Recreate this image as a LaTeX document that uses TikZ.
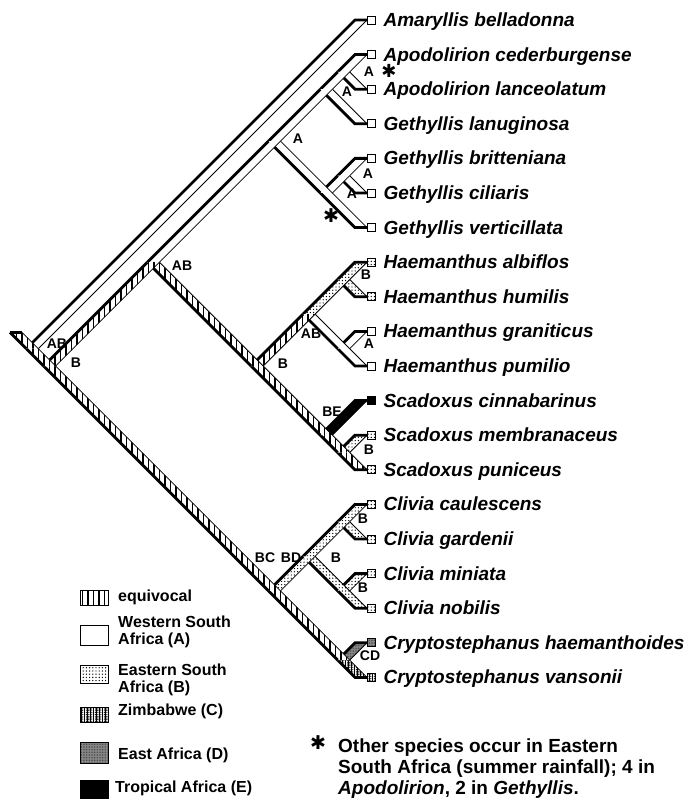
\documentclass[tikz,border=0pt]{standalone}
\usepackage{fontspec}
\setmainfont{Liberation Sans}
\newfontfamily\symfont{DejaVu Sans}
\usetikzlibrary{positioning, patterns.meta}

\begin{document}
\begin{tikzpicture}[x=1pt, y=-1pt]
  \tikzset{
    west/.style={fill=white},
    equiv/.style={preaction={fill=white}, pattern={Lines[angle=90, distance=5.5pt, line width=1.9pt]}},
    east/.style={preaction={fill=white}, pattern={Dots[distance=3.2pt, radius=0.7pt]}},
    zimb/.style={preaction={fill=white}, pattern={Dots[distance=1.8pt, radius=0.6pt]},
      postaction={pattern={Lines[angle=90, distance=3pt, line width=0.8pt]}}},
    eafr/.style={preaction={fill=black!45}, pattern color=black!80, pattern={Dots[distance=1.6pt, radius=0.45pt]}},
    trop/.style={fill=black},
    rim/.style={line width=0.8pt},
    shade/.style={line width=2.8pt},
    tipbox/.style={draw, line width=0.8pt, minimum size=8pt, inner sep=0pt},
    species/.style={font=\fontsize{19}{21}\selectfont\bfseries\itshape, inner sep=0pt, text height=14pt, text depth=1pt},
    lab/.style={font=\fontsize{14}{14}\selectfont\bfseries, inner sep=0pt},
    legbox/.style={draw, line width=0.8pt, minimum width=28pt, inner sep=0pt},
    legtext/.style={font=\fontsize{16}{17}\selectfont\bfseries, align=left, anchor=west, inner sep=0pt},
    note/.style={font=\fontsize{19}{21}\selectfont\bfseries, anchor=base west, inner sep=0pt},
    star/.style={font=\symfont\fontsize{19}{19}\selectfont, inner sep=0pt}
  }
  \useasboundingbox (0,0) rectangle (693,799);

  % nodes of the tree
  \coordinate (stub) at (10,332.4);
  \coordinate (root) at (26.3,348.7);
  \coordinate (n1) at (43.6,366);
  \coordinate (n2) at (147.4,262.2);
  \coordinate (ag) at (268.5,141.1);
  \coordinate (apg) at (320.4,89.2);
  \coordinate (ap) at (337.7,71.9);
  \coordinate (gcv) at (320.4,193);
  \coordinate (gc) at (337.7,175.7);
  \coordinate (hs) at (251.2,366);
  \coordinate (hae) at (303.1,314.1);
  \coordinate (h1) at (337.7,279.5);
  \coordinate (h2) at (337.7,348.7);
  \coordinate (sca) at (320.4,435.2);
  \coordinate (s2) at (337.7,452.5);
  \coordinate (n3) at (268.5,590.9);
  \coordinate (cli) at (303.1,556.3);
  \coordinate (c1) at (337.7,521.7);
  \coordinate (c2) at (337.7,590.9);
  \coordinate (cr) at (337.7,660.1);
  \foreach \i in {1,...,20}
    \coordinate (t\i) at (355, {20+34.6*(\i-1)});

  % terminal branches
  \foreach \a/\i/\s/\k/\name in {root/1/west/west/{Amaryllis belladonna},
      ap/2/west/west/{Apodolirion cederburgense}, ap/3/west/west/{Apodolirion lanceolatum},
      apg/4/west/west/{Gethyllis lanuginosa}, gc/5/west/west/{Gethyllis britteniana},
      gc/6/west/west/{Gethyllis ciliaris}, gcv/7/west/west/{Gethyllis verticillata},
      h1/8/east/east/{Haemanthus albiflos}, h1/9/east/east/{Haemanthus humilis},
      h2/10/west/west/{Haemanthus graniticus}, h2/11/west/west/{Haemanthus pumilio},
      sca/12/trop/trop/{Scadoxus cinnabarinus}, s2/13/east/east/{Scadoxus membranaceus},
      s2/14/equiv/east/{Scadoxus puniceus}, c1/15/east/east/{Clivia caulescens},
      c1/16/east/east/{Clivia gardenii}, c2/17/east/east/{Clivia miniata},
      c2/18/east/east/{Clivia nobilis}, cr/19/eafr/eafr/{Cryptostephanus haemanthoides},
      cr/20/zimb/zimb/{Cryptostephanus vansonii}} {
    \fill[\s] (\a) -- (t\i) -- ([xshift=12pt]t\i) -- ([xshift=12pt]\a) -- cycle;
    \draw[rim] ([xshift=12pt]\a) -- ([xshift=12pt]t\i);
    \draw[shade] (\a) -- (t\i) -- ([xshift=12pt]t\i);
    \node[tipbox, \k] (b\i) at ([xshift=16pt]t\i) {};
    \node[species, right=8pt of b\i] (l\i) {\name};
  }

  % inner branches, children before parents
  \foreach \a/\b/\s in {apg/ap/west, gcv/gc/west, hae/h1/east, hae/h2/west, sca/s2/equiv,
      cli/c1/east, cli/c2/east, ag/apg/west, ag/gcv/west, hs/hae/equiv, hs/sca/equiv,
      n3/cli/east, n3/cr/equiv, n2/ag/west, n2/hs/equiv, n1/n3/equiv, n1/n2/equiv,
      root/n1/equiv, stub/root/equiv} {
    \fill[\s] (\a) -- (\b) -- ([xshift=12pt]\b) -- ([xshift=12pt]\a) -- cycle;
    \draw[rim] ([xshift=12pt]\a) -- ([xshift=12pt]\b);
    \draw[shade] (\a) -- (\b);
  }
  \draw[shade] (stub) -- ([xshift=12pt]stub);

  % states at the nodes
  \node[lab] (lroot) at (57,344) {AB};
  \node[lab] (ln1) at (76,363) {B};
  \node[lab] (ln2) at (182,266) {AB};
  \node[lab] (lag) at (298,139) {A};
  \node[lab] (lapg) at (347,92) {A};
  \node[lab] (lap) at (369,72) {A};
  \node[lab] (lgc) at (368,174) {A};
  \node[lab] (lgcv) at (352,194) {A};
  \node[lab] (lhs) at (283,364) {B};
  \node[lab] (lhae) at (311,334) {AB};
  \node[lab] (lh1) at (366,275) {B};
  \node[lab] (lh2) at (369,344) {A};
  \node[lab] (lsca) at (332,412) {BE};
  \node[lab] (ls2) at (369,450) {B};
  \node[lab] (lbc) at (265,558) {BC};
  \node[lab] (lbd) at (291,558) {BD};
  \node[lab] (lcli) at (336,558) {B};
  \node[lab] (lc1) at (363,519) {B};
  \node[lab] (lc2) at (363,588) {B};
  \node[lab] (lcr) at (370,656) {CD};
  \node[star, font=\symfont\fontsize{18}{18}\selectfont] (st1) at (389,71) {✱};
  \node[star] (st2) at (331,216) {✱};

  % legend
  \node[legbox, equiv, minimum height=15pt] (k1) at (94,598) {};
  \node[legtext] (e1) at (118,597) {equivocal};
  \node[legbox, west, minimum height=20pt] (k2) at (94,635) {};
  \node[legtext] (e2) at (118,632) {Western South\\Africa (A)};
  \node[legbox, east, minimum height=18pt] (k3) at (94,674) {};
  \node[legtext] (e3) at (118,680) {Eastern South\\Africa (B)};
  \node[legbox, zimb, minimum height=15pt] (k4) at (94,714.5) {};
  \node[legtext] (e4) at (118,711) {Zimbabwe (C)};
  \node[legbox, eafr, minimum height=21pt] (k5) at (94,752.5) {};
  \node[legtext] (e5) at (118,755) {East Africa (D)};
  \node[legbox, trop, minimum height=19pt] (k6) at (94,789.5) {};
  \node[legtext] (e6) at (115,788) {Tropical Africa (E)};

  % footnote
  \node[star] (st3) at (318,743) {✱};
  \node[note] (fn1) at (338,752) {Other species occur in Eastern};
  \node[note] (fn2) at (338,773.5) {South Africa (summer rainfall); 4 in};
  \node[note] (fn3) at (338,794.5) {\textit{Apodolirion}, 2 in \textit{Gethyllis}.};
\end{tikzpicture}
\end{document}
